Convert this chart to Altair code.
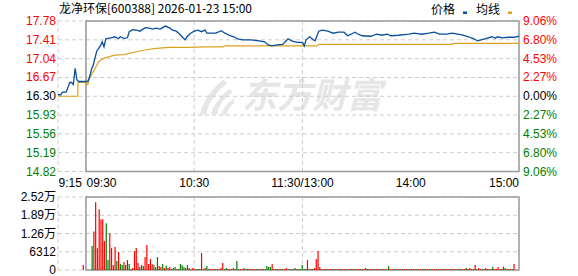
import altair as alt
import pandas as pd

# ---------------- data ----------------
title_text = "龙净环保[600388] 2026-01-23 15:00"
legend_labels = ["价格", "均线"]
watermark_text = ["东方财富"]

prev_close = 16.30
price_ticks = [17.78, 17.41, 17.04, 16.67, 16.30, 15.93, 15.56, 15.19, 14.82]
price_tick_labels = ["17.78", "17.41", "17.04", "16.67", "16.30", "15.93", "15.56", "15.19", "14.82"]
pct_tick_labels = ["9.06%", "6.80%", "4.53%", "2.27%", "0.00%", "2.27%", "4.53%", "6.80%", "9.06%"]

vol_ticks = [25248, 18936, 12624, 6312, 0]
vol_tick_labels = ["2.52万", "1.89万", "1.26万", "6312", "0"]

# minutes relative to 09:30 (pre-market 9:15 = -15.5 on the chart grid)
time_ticks = [-15.5, 0, 60, 120, 180, 240]
time_tick_labels = ["9:15", "09:30", "10:30", "11:30/13:00", "14:00", "15:00"]

price_minutes = [-15.5, -14, -13, -11, -10, -9, -8, -7, -6, -5, -4, 0, 1, 2, 3, 4, 5, 6, 7, 8, 9, 10,
                 11, 12, 14, 16, 18, 19, 21, 23, 24, 26, 28, 30, 31, 33, 35, 37, 39, 41, 42, 44, 46,
                 48, 50, 52, 54, 55, 56, 58, 60, 62, 64, 66, 67, 72, 75, 77, 80, 82, 84, 87, 91,
                 96, 99, 101, 103, 106, 109, 111, 112, 114, 117, 120, 121, 122, 124, 126, 127, 129,
                 131, 134, 137, 140, 143, 145, 147, 149, 151, 153, 158, 161, 164, 167, 169, 173,
                 179, 182, 186, 190, 193, 196, 200, 203, 206, 209, 212, 215, 217, 219, 222, 225,
                 227, 228, 231, 234, 237, 240]
price_values = [16.33, 16.33, 16.38, 16.38, 16.47, 16.57, 16.57, 16.53, 16.85, 16.62, 16.59, 16.59,
                16.59, 16.68, 16.82, 16.91, 17.05, 17.19, 17.24, 17.29, 17.37, 17.27,
                17.43, 17.44, 17.45, 17.47, 17.43, 17.47, 17.44, 17.45, 17.57, 17.61, 17.60, 17.58,
                17.61, 17.65, 17.64, 17.62, 17.64, 17.62, 17.64, 17.68, 17.65,
                17.60, 17.58, 17.52, 17.44, 17.41, 17.47, 17.54, 17.58, 17.60, 17.57, 17.60, 17.54,
                17.54, 17.59, 17.54, 17.49, 17.47, 17.43, 17.41, 17.41,
                17.39, 17.37, 17.31, 17.29, 17.31, 17.32, 17.39, 17.43, 17.39, 17.36, 17.36, 17.29,
                17.41, 17.47, 17.41, 17.39, 17.58,
                17.60, 17.58, 17.54, 17.56, 17.56, 17.49, 17.52, 17.56, 17.52, 17.49, 17.48, 17.52,
                17.50, 17.52, 17.49, 17.50,
                17.52, 17.54, 17.52, 17.54, 17.56, 17.52, 17.52, 17.54, 17.52, 17.50, 17.47, 17.43,
                17.39, 17.41, 17.44, 17.47,
                17.44, 17.47, 17.45, 17.46, 17.46, 17.48]

avg_minutes = [-15.5, -4.5, -4.4, 0, 1, 2, 4, 6, 7, 9, 11, 13, 16, 21, 26, 30, 34, 39, 46, 57, 66,
               76, 77, 128, 129, 203, 204, 240]
avg_values = [16.30, 16.30, 16.57, 16.57, 16.53, 16.65, 16.78, 16.91, 16.98, 17.03, 17.06, 17.08,
              17.11, 17.12, 17.16, 17.19, 17.22, 17.24, 17.26, 17.26, 17.27,
              17.27, 17.29, 17.29, 17.32, 17.32, 17.34, 17.34]

vol_minutes = [-4] + list(range(1, 241))
vol_values = [1722] + [
    8266, 13317, 23419, 7577, 21008, 17564, 17564, 9988, 16187, 3444, 12743, 7577, 1722, 7921, 3100, 6200, 2181, 1722, 2755, 1722,
    3444, 2066, 344, 689, 6544, 7577, 2411, 1148, 1722, 1378, 4477, 8610, 2066, 3788, 2066, 1722, 918, 4477, 1378, 1033,
    2066, 689, 1492, 689, 1033, 344, 689, 1033, 344, 344, 2066, 1722, 1033, 689, 1722, 689, 344, 689, 344, 344,
    344, 344, 5855, 344, 689, 1378, 344, 344, 344, 344, 344, 344, 344, 689, 2411, 344, 689, 344, 344, 344,
    689, 344, 3100, 344, 344, 344, 689, 344, 344, 344, 344, 344, 344, 344, 344, 344, 344, 344, 344, 1378,
    1033, 1033, 2066, 344, 344, 344, 344, 344, 344, 344, 689, 344, 344, 344, 344, 689, 344, 344, 344, 1722,
    344, 344, 3444, 344, 344, 344, 689, 3788, 6544, 1033, 344, 344, 344, 344, 344, 344, 344, 344, 344, 344,
    344, 344, 344, 344, 344, 344, 344, 344, 344, 344, 344, 344, 344, 344, 344, 689, 344, 344, 344, 344,
    344, 344, 344, 344, 344, 344, 344, 344, 1378, 344, 344, 344, 344, 344, 344, 344, 344, 344, 344, 344,
    344, 344, 344, 344, 344, 344, 344, 344, 344, 344, 344, 344, 344, 344, 344, 344, 344, 344, 344, 344,
    344, 344, 344, 344, 344, 344, 344, 344, 344, 344, 344, 344, 689, 344, 689, 344, 344, 1722, 344, 689,
    344, 344, 344, 689, 344, 344, 344, 1148, 344, 344, 1033, 344, 344, 1148, 689, 344, 344, 344, 344, 2066,
]
vol_dirs = list("R" +
                "GRRRRRRRGGRRRRGRGGRG" + "RGGRRRRGRGRRRRRGGGRR" + "GRGRRGGGRGGGGRGRGRRG" +
                "GRRGRGGRRRGRRRRGGRRG" + "RGGGRRGRGRRGRGRRGRRG" + "GGRRRGRRGRRGRRGGRGGG" +
                "GRRGRGRRRRRGRGRRGRRG" + "RGRRGRGRRGRRGRRGRGRR" + "GRRGRRGRGRRGRGRRGRRG" +
                "RGRRGRRGRRGRGRRGRRGR" + "GRRGRRGRGGRRGRRGRRGR" + "RGRRGRGGRRRGRRGRGRGR")

# ---------------- styling ----------------
NUM_FONT = "Liberation Sans, Noto Sans CJK SC"
CJK_FONT = "Noto Sans CJK SC"
RED, GREEN, BLACK = "#ff0000", "#008000", "#000000"
BLUE_LINE, AVG_LINE = "#0a4f9e", "#dba21e"
GRID, BORDER = "#cccccc", "#999999"
WATERMARK = "#e6e6e6"
LOGO_PATH = ("M -0.95 0.95 C -0.75 0.2 -0.3 -0.45 0.35 -0.95 L 0.55 -0.75 "
             "C -0.05 -0.3 -0.45 0.3 -0.6 0.95 Z "
             "M -0.35 0.95 C -0.15 0.35 0.2 -0.1 0.7 -0.45 L 0.85 -0.25 "
             "C 0.4 0.05 0.1 0.45 0.0 0.95 Z "
             "M 0.25 0.95 C 0.35 0.6 0.6 0.3 0.95 0.1 L 0.95 0.35 C 0.75 0.5 0.6 0.7 0.55 0.95 Z")

xs = alt.Scale(domain=[-15.5, 240], range=[58, 519], nice=False, zero=False)
ps = alt.Scale(domain=[14.82, 17.78], range=[171.5, 21], nice=False, zero=False)
vs = alt.Scale(domain=[0, 25248], range=[270, 197], nice=False, zero=False)

price_df = pd.DataFrame({"m": price_minutes, "price": price_values})
avg_df = pd.DataFrame({"m": avg_minutes, "price": avg_values})
vol_df = pd.DataFrame({"m": vol_minutes, "vol": vol_values, "dir": vol_dirs})
ptick_df = pd.DataFrame({"price": price_ticks, "label": price_tick_labels, "pct": pct_tick_labels})
vtick_df = pd.DataFrame({"vol": vol_ticks, "label": vol_tick_labels})
vgrid_df = pd.DataFrame({"m": time_ticks[:4]})
box_df = pd.DataFrame({"m0": [0], "m1": [240], "p0": [price_ticks[-1]], "p1": [price_ticks[0]],
                       "v0": [vol_ticks[-1]], "v1": [vol_ticks[0]]})
one = pd.DataFrame({"t": [title_text]})

side_expr = f"datum.price > {prev_close} + 0.001 ? 'up' : (datum.price < {prev_close} - 0.001 ? 'down' : 'flat')"
side_color = alt.Color("side:N", scale=alt.Scale(domain=["up", "flat", "down"], range=[RED, BLACK, GREEN]),
                       legend=None)

layers = []

# watermark
layers.append(alt.Chart(pd.DataFrame({"t": watermark_text})).mark_point(
    shape=LOGO_PATH, filled=True, color=WATERMARK, opacity=1, size=1300, strokeWidth=0).encode(
    x=alt.value(217), y=alt.value(97)))
layers.append(alt.Chart(pd.DataFrame({"t": watermark_text})).mark_text(
    font=CJK_FONT, fontSize=35, fontWeight="bold", fontStyle="italic", color=WATERMARK,
    align="center", baseline="middle").encode(x=alt.value(312), y=alt.value(97), text="t:N"))

# horizontal grids
layers.append(alt.Chart(ptick_df).mark_rule(color=GRID, strokeDash=[4, 3], strokeWidth=1).encode(
    y=alt.Y("price:Q", scale=ps, axis=None), x=alt.value(58), x2=alt.value(519)))
layers.append(alt.Chart(vtick_df).mark_rule(color=GRID, strokeDash=[4, 3], strokeWidth=1).encode(
    y=alt.Y("vol:Q", scale=vs, axis=None), x=alt.value(58), x2=alt.value(519)))
# vertical grids
layers.append(alt.Chart(vgrid_df).mark_rule(color=GRID, strokeDash=[4, 3], strokeWidth=1).encode(
    x=alt.X("m:Q", scale=xs, axis=None), y=alt.value(21), y2=alt.value(171.5)))
layers.append(alt.Chart(vgrid_df).mark_rule(color=GRID, strokeDash=[4, 3], strokeWidth=1).encode(
    x=alt.X("m:Q", scale=xs, axis=None), y=alt.value(197), y2=alt.value(270)))

# panel boxes
layers.append(alt.Chart(box_df).mark_rect(fillOpacity=0, stroke=BORDER, strokeWidth=1.5).encode(
    x=alt.X("m0:Q", scale=xs, axis=None), x2="m1:Q",
    y=alt.Y("p0:Q", scale=ps, axis=None), y2="p1:Q"))
layers.append(alt.Chart(box_df).mark_rect(fillOpacity=0, stroke=BORDER, strokeWidth=1.5).encode(
    x=alt.X("m0:Q", scale=xs, axis=None), x2="m1:Q",
    y=alt.Y("v0:Q", scale=vs, axis=None), y2="v1:Q"))

# volume bars
layers.append(alt.Chart(vol_df).mark_bar(size=1.2).encode(
    x=alt.X("m:Q", scale=xs, axis=None),
    y=alt.Y("vol:Q", scale=vs, axis=None),
    color=alt.Color("dir:N", scale=alt.Scale(domain=["R", "G"], range=[RED, GREEN]), legend=None)))

# price and average lines
layers.append(alt.Chart(avg_df).mark_line(color=AVG_LINE, strokeWidth=1.2).encode(
    x=alt.X("m:Q", scale=xs, axis=None), y=alt.Y("price:Q", scale=ps, axis=None)))
layers.append(alt.Chart(price_df).mark_line(color=BLUE_LINE, strokeWidth=1.3).encode(
    x=alt.X("m:Q", scale=xs, axis=None), y=alt.Y("price:Q", scale=ps, axis=None)))

# left price labels
layers.append(alt.Chart(ptick_df).transform_calculate(side=side_expr).mark_text(
    font=NUM_FONT, fontSize=12, align="right", baseline="middle").encode(
    x=alt.value(56), y=alt.Y("price:Q", scale=ps, axis=None), text="label:N", color=side_color))
# right percent labels
layers.append(alt.Chart(ptick_df).transform_calculate(side=side_expr).mark_text(
    font=NUM_FONT, fontSize=12, align="left", baseline="middle").encode(
    x=alt.value(523), y=alt.Y("price:Q", scale=ps, axis=None), text="pct:N", color=side_color))
# volume labels
layers.append(alt.Chart(vtick_df).mark_text(
    font=NUM_FONT, fontSize=12, align="right", baseline="middle", color=BLACK).encode(
    x=alt.value(56), y=alt.Y("vol:Q", scale=vs, axis=None), text="label:N"))

# time labels
tl_df = pd.DataFrame({"m": time_ticks, "label": time_tick_labels})
layers.append(alt.Chart(tl_df.iloc[:2]).mark_text(
    font=NUM_FONT, fontSize=12, align="left", baseline="middle", dx=0.5, color=BLACK).encode(
    x=alt.X("m:Q", scale=xs, axis=None), y=alt.value(182.5), text="label:N"))
layers.append(alt.Chart(tl_df.iloc[2:5]).mark_text(
    font=NUM_FONT, fontSize=12, align="center", baseline="middle", color=BLACK).encode(
    x=alt.X("m:Q", scale=xs, axis=None), y=alt.value(182.5), text="label:N"))
layers.append(alt.Chart(tl_df.iloc[5:]).mark_text(
    font=NUM_FONT, fontSize=12, align="right", baseline="middle", color=BLACK).encode(
    x=alt.X("m:Q", scale=xs, axis=None), y=alt.value(182.5), text="label:N"))

# title
layers.append(alt.Chart(one).mark_text(
    font=CJK_FONT, fontSize=12, align="left", baseline="middle", color=BLACK).encode(
    x=alt.value(59), y=alt.value(9), text="t:N"))

# legend
leg_df = pd.DataFrame({"t": legend_labels})
layers.append(alt.Chart(leg_df.iloc[:1]).mark_text(
    font=CJK_FONT, fontSize=12, align="left", baseline="middle", color=BLACK).encode(
    x=alt.value(431), y=alt.value(9.5), text="t:N"))
layers.append(alt.Chart(leg_df.iloc[1:]).mark_text(
    font=CJK_FONT, fontSize=12, align="left", baseline="middle", color=BLACK).encode(
    x=alt.value(476), y=alt.value(9.5), text="t:N"))
layers.append(alt.Chart(leg_df.iloc[:1]).mark_rect(color=BLUE_LINE).encode(
    x=alt.value(463), x2=alt.value(467), y=alt.value(11.5), y2=alt.value(14)))
layers.append(alt.Chart(leg_df.iloc[1:]).mark_rect(color=AVG_LINE).encode(
    x=alt.value(508), x2=alt.value(512), y=alt.value(11.5), y2=alt.value(14)))

chart = alt.layer(*layers).resolve_scale(
    x="independent", y="independent", color="independent"
).properties(
    width=578, height=276, padding=0, autosize=alt.AutoSizeParams(type="none"), background="white"
).configure_view(strokeWidth=0)

chart.save("out.html", embed_options={"renderer": "svg", "actions": False})
